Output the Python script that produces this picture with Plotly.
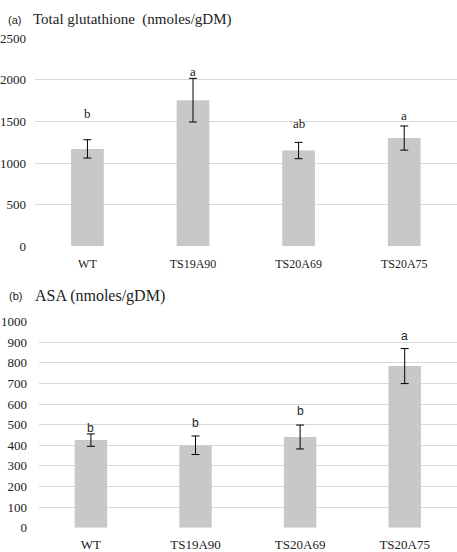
import plotly.graph_objects as go

categories = ["WT", "TS19A90", "TS20A69", "TS20A75"]

glut_values = [1170, 1755, 1150, 1300]
glut_errors = [110, 262, 98, 145]
glut_letters = ["b", "a", "ab", "a"]
glut_letter_y = [1590, 2105, 1472, 1570]

asa_values = [425, 400, 440, 784]
asa_errors = [30, 45, 58, 85]
asa_letters = ["b", "b", "b", "a"]
asa_letter_y = [486, 509, 564, 932]

glut_ticks = [0, 500, 1000, 1500, 2000, 2500]
asa_ticks = [0, 100, 200, 300, 400, 500, 600, 700, 800, 900, 1000]

W, H = 457, 552
BAR = "#c8c8c8"
GRID = "#d9d9d9"
SERIF = "Liberation Serif, Times New Roman, serif"
SANS = "Liberation Sans, Arial, sans-serif"

def py(p):
    return 1 - p / H

fig = go.Figure()
fig.add_trace(go.Bar(
    x=categories, y=glut_values, width=0.31, marker=dict(color=BAR, line=dict(width=0)),
    error_y=dict(type="data", array=glut_errors, color="black", thickness=1, width=4),
    xaxis="x", yaxis="y", showlegend=False,
))
fig.add_trace(go.Bar(
    x=categories, y=asa_values, width=0.31, marker=dict(color=BAR, line=dict(width=0)),
    error_y=dict(type="data", array=asa_errors, color="black", thickness=1, width=4),
    xaxis="x2", yaxis="y2", showlegend=False,
))

annotations = []
for c, t, yv in zip(categories, glut_letters, glut_letter_y):
    annotations.append(dict(x=c, y=yv, xref="x", yref="y", text=t, showarrow=False,
                            font=dict(family=SERIF, size=13, color="#222")))
for c, t, yv in zip(categories, asa_letters, asa_letter_y):
    annotations.append(dict(x=c, y=yv, xref="x2", yref="y2", text=t, showarrow=False,
                            font=dict(family=SANS, size=12, color="#222")))

annotations += [
    dict(x=5 / W, y=py(13), xref="paper", yref="paper", xanchor="left", yanchor="middle",
         text="(a)", showarrow=False, font=dict(family=SANS, size=11, color="#222")),
    dict(x=30 / W, y=py(13), xref="paper", yref="paper", xanchor="left", yanchor="middle",
         text="Total glutathione  (nmoles/gDM)", showarrow=False,
         font=dict(family=SERIF, size=15, color="#222")),
    dict(x=6 / W, y=py(297), xref="paper", yref="paper", xanchor="left", yanchor="middle",
         text="(b)", showarrow=False, font=dict(family=SANS, size=11, color="#222")),
    dict(x=32 / W, y=py(297), xref="paper", yref="paper", xanchor="left", yanchor="middle",
         text="ASA (nmoles/gDM)", showarrow=False,
         font=dict(family=SERIF, size=16, color="#222")),
]

axis_common = dict(showline=False, zeroline=False, ticks="outside", tickcolor="rgba(0,0,0,0)")

fig.update_layout(
    width=W, height=H,
    margin=dict(l=0, r=0, t=0, b=0),
    paper_bgcolor="white", plot_bgcolor="white",
    font=dict(family=SERIF),
    xaxis=dict(domain=[33.7 / W, 1], anchor="y", ticklen=6,
               tickfont=dict(family=SERIF, size=12, color="#222"), showgrid=False, **axis_common),
    yaxis=dict(domain=[py(246), py(32)], anchor="x", range=[0, 2500], tickvals=glut_ticks,
               ticklen=5, showgrid=True, gridcolor=GRID, gridwidth=1,
               tickfont=dict(family=SERIF, size=13, color="#222"), **axis_common),
    xaxis2=dict(domain=[37.7 / W, 1], anchor="y2", ticklen=5,
                tickfont=dict(family=SERIF, size=13, color="#222"), showgrid=False, **axis_common),
    yaxis2=dict(domain=[py(535.3), py(323.3)], anchor="x2", range=[0, 1000], tickvals=asa_ticks,
                ticklen=8, showgrid=True, gridcolor=GRID, gridwidth=1,
                tickfont=dict(family=SERIF, size=13, color="#222"), **axis_common),
    annotations=annotations,
)

fig.write_html("out.html", config={"displayModeBar": False},
               post_script="document.body.style.margin='0';document.body.style.padding='0';")
